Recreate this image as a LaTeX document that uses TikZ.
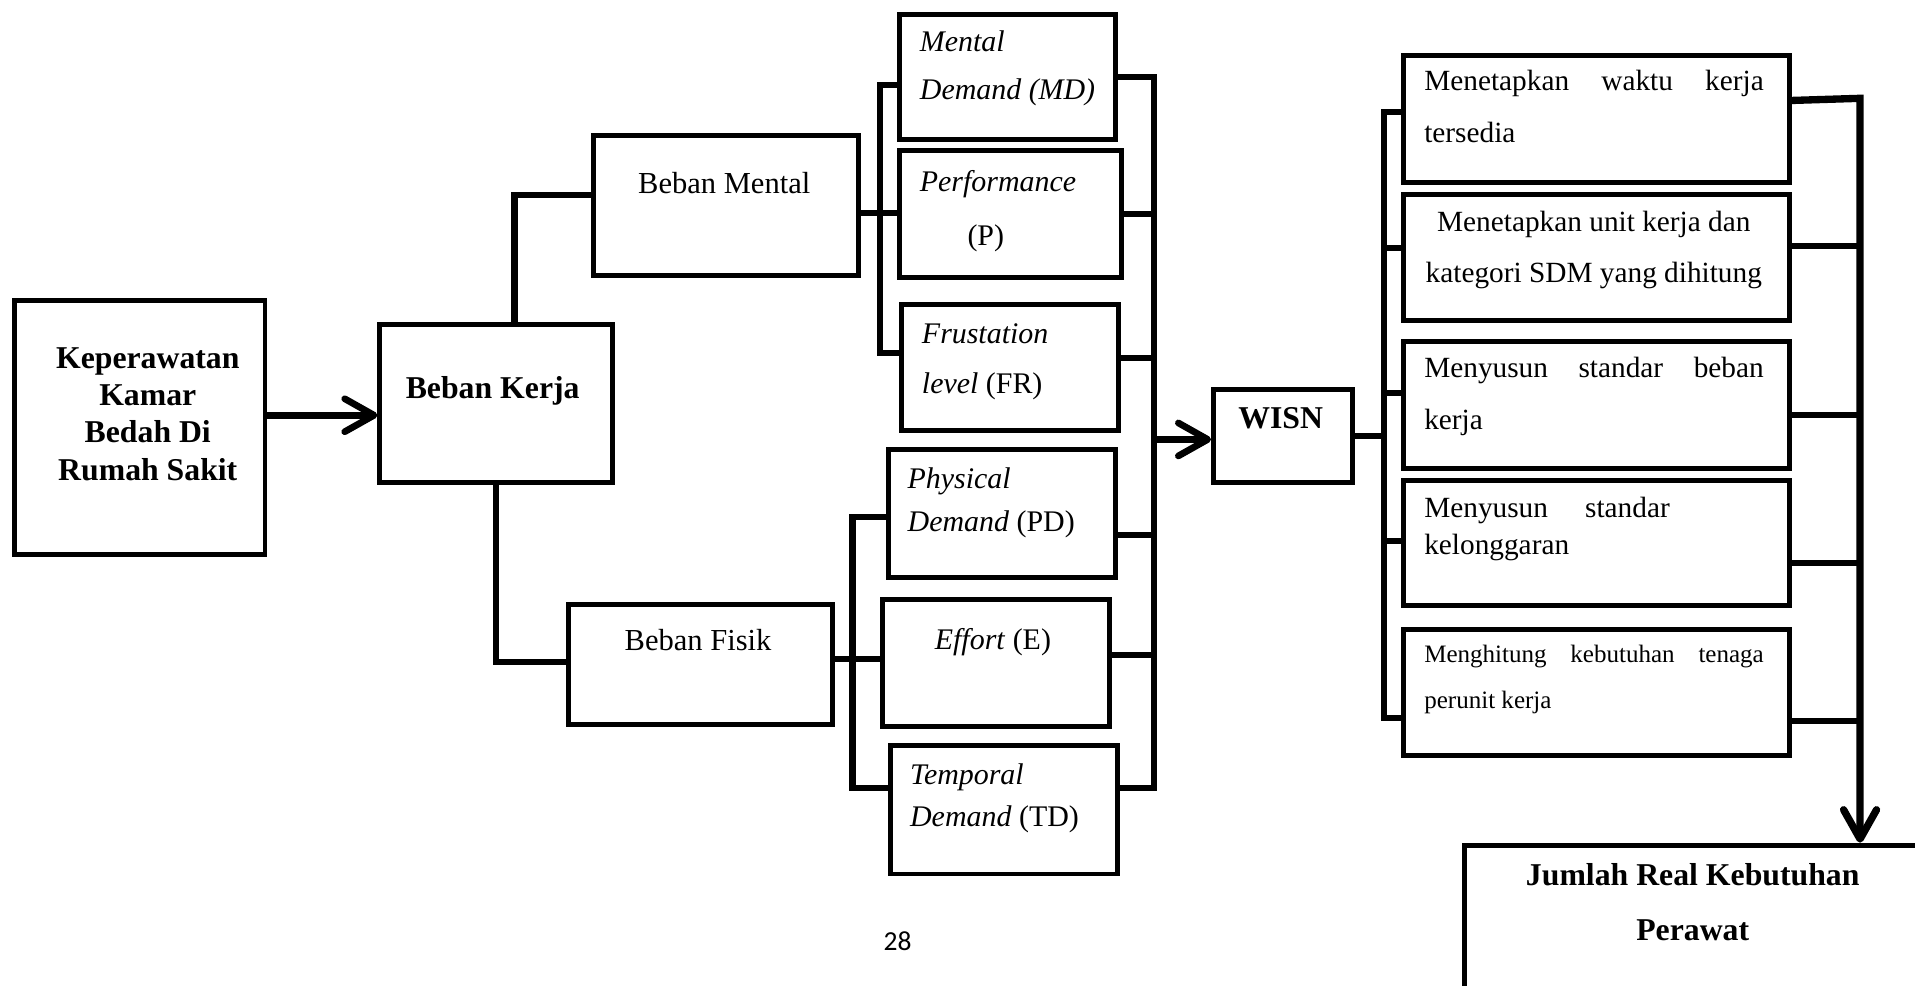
\documentclass[tikz,border=0pt]{standalone}
\usepackage{fontspec}
\setmainfont{Liberation Serif}
\newfontfamily\halfont{Carlito}
\usetikzlibrary{arrows.meta}

\begin{document}
\begin{tikzpicture}[x=1pt,y=-1pt,
  kotak/.style={draw=black,line width=4pt,rectangle,anchor=north west,inner sep=0pt},
  teks/.style={inner sep=0pt,font=\fontsize{25}{30}\selectfont},
  garis/.style={draw=black,line width=5pt},
  panah/.style={draw=black,line width=5.5pt,-{Straight Barb[length=24pt,width=27pt,round]}}]
\useasboundingbox (0,0) rectangle (1568,807);
% boxes:
\node[kotak,minimum width=205pt,minimum height=208pt] (kep) at (10,244) {};
\node[kotak,minimum width=190.6pt,minimum height=129.6pt] (bk) at (309,263.4) {};
\node[kotak,minimum width=217.3pt,minimum height=114.8pt] (bm) at (483.7,109) {};
\node[kotak,minimum width=216.5pt,minimum height=98.3pt] (bf) at (463.5,492.6) {};
\node[kotak,minimum width=177pt,minimum height=102.4pt] (md) at (734.6,9.6) {};
\node[kotak,minimum width=181.4pt,minimum height=103.5pt] (pp) at (734.6,121.5) {};
\node[kotak,minimum width=178pt,minimum height=103.7pt] (fr) at (736,247) {};
\node[kotak,minimum width=186pt,minimum height=105pt] (pd) at (725.5,365.7) {};
\node[kotak,minimum width=186pt,minimum height=104.3pt] (ef) at (720.6,488.5) {};
\node[kotak,minimum width=186pt,minimum height=105pt] (td) at (727,608.6) {};
\node[kotak,minimum width=113.8pt,minimum height=76.4pt] (wisn) at (991.6,316.6) {};
\node[kotak,minimum width=316pt,minimum height=104.3pt] (s1) at (1147,43.1) {};
\node[kotak,minimum width=316pt,minimum height=103.7pt] (s2) at (1147,156.9) {};
\node[kotak,minimum width=316pt,minimum height=104pt] (s3) at (1147,277.6) {};
\node[kotak,minimum width=316pt,minimum height=102.4pt] (s4) at (1147,391.6) {};
\node[kotak,minimum width=316pt,minimum height=103.2pt] (s5) at (1147,513.1) {};
\node[kotak,minimum width=378pt,minimum height=125pt] (jr) at (1197,690) {};
% texts (multi-line ones sit on the baseline of their last line):
\node[teks,font=\bfseries\fontsize{26}{30.5}\selectfont,align=center,anchor=base] (kept) at (121,393.1) {Keperawatan\\Kamar\\Bedah Di\\Rumah Sakit};
\node[teks,font=\bfseries\fontsize{26}{30}\selectfont,anchor=base] (bkt) at (403.4,326.6) {Beban Kerja};
\node[teks,anchor=base] (bmt) at (593,158.3) {Beban Mental};
\node[teks,anchor=base] (bft) at (571.6,532.3) {Beban Fisik};
\node[teks,font=\itshape\fontsize{24.5}{39.7}\selectfont,align=left,anchor=base west] (mdt) at (753,81.7) {Mental\\Demand (MD)};
\node[teks,font=\fontsize{24.5}{43.6}\selectfont,align=left,anchor=base west] (ppt) at (753,200.6) {\textit{Performance}\\\hspace*{39pt}(P)};
\node[teks,font=\fontsize{24.5}{41}\selectfont,align=left,anchor=base west] (frt) at (754.7,322) {\textit{Frustation}\\\textit{level} (FR)};
\node[teks,font=\fontsize{24.5}{35.4}\selectfont,align=left,anchor=base west] (pdt) at (743,435) {\textit{Physical}\\\textit{Demand} (PD)};
\node[teks,font=\fontsize{24.5}{30}\selectfont,anchor=base] (eft) at (813,532) {\textit{Effort} (E)};
\node[teks,font=\fontsize{24.5}{34.1}\selectfont,align=left,anchor=base west] (tdt) at (745,676.7) {\textit{Temporal}\\\textit{Demand} (TD)};
\node[teks,font=\bfseries\fontsize{26}{30}\selectfont,anchor=base] (wisnt) at (1048.6,351) {WISN};
\node[teks,font=\fontsize{24}{42.3}\selectfont,align=left,anchor=base west] (s1t) at (1166,116.7) {\makebox[278pt][s]{Menetapkan waktu kerja}\\tersedia};
\node[teks,font=\fontsize{24}{41.5}\selectfont,align=center,anchor=base] (s2t) at (1305,231.3) {Menetapkan unit kerja dan\\kategori SDM yang dihitung};
\node[teks,font=\fontsize{24}{42.3}\selectfont,align=left,anchor=base west] (s3t) at (1166,351.4) {\makebox[278pt][s]{Menyusun standar beban}\\kerja};
\node[teks,font=\fontsize{24}{30}\selectfont,align=left,anchor=base west] (s4t) at (1166,453.7) {\makebox[201pt][s]{Menyusun standar}\\kelonggaran};
\node[teks,font=\fontsize{20.5}{37}\selectfont,align=left,anchor=base west] (s5t) at (1166,579.8) {\makebox[278pt][s]{Menghitung kebutuhan tenaga}\\perunit kerja};
\node[teks,font=\bfseries\fontsize{26}{45}\selectfont,align=center,anchor=base] (jrt) at (1386,770) {Jumlah Real Kebutuhan\\Perawat};
\node[teks,font=\halfont\fontsize{22.5}{27}\selectfont,anchor=base] (hal) at (735,778) {28};
% left part:
\draw[panah] ([yshift=10pt]kep.east) -- ([yshift=10pt]kep.east -| bk.west);
\draw[garis] ([xshift=15pt]bk.north) |- ([yshift=9pt]bm.west);
\draw[garis] (bk.south) |- ([yshift=2pt]bf.west);
% mental bracket:
\coordinate (mtop) at (720.6,69.6);
\coordinate (mbot) at (720.6,289);
\draw[garis] ([yshift=-6pt]bm.east) -- ([yshift=-6pt]bm.east -| pp.west);
\draw[garis] (mtop -| md.west) -- (mtop) -- (mbot) -- (mbot -| fr.west);
% fisik bracket:
\coordinate (ftop) at (698,423);
\coordinate (fbot) at (698,645.5);
\draw[garis] ([yshift=4pt]bf.east) -- ([yshift=4pt]bf.east -| ef.west);
\draw[garis] (ftop -| pd.west) -- (ftop) -- (fbot) -- (fbot -| td.west);
% collecting bar:
\coordinate (rbar) at (945,645);
\draw[garis] (md.east) -- (md.east -| rbar) -- (rbar) -- (rbar -| td.east);
\draw[garis] (pp.east) -- (pp.east -| rbar);
\draw[garis] ([yshift=8pt]fr.east) -- ([yshift=8pt]fr.east -| rbar);
\draw[garis] ([yshift=-18pt]pd.east) -- ([yshift=-18pt]pd.east -| rbar);
\draw[garis] ([yshift=6pt]ef.east) -- ([yshift=6pt]ef.east -| rbar);
\draw[panah] ([yshift=-3pt]wisn.west -| rbar) -- ([yshift=-3pt]wisn.west);
% WISN bracket:
\coordinate (wtop) at (1133,91.4);
\coordinate (wbot) at (1133,588.2);
\draw[garis] (wisn.east) -- (wisn.east -| wtop);
\draw[garis] (wtop -| s1.west) -- (wtop) -- (wbot) -- (wbot -| s5.west);
\draw[garis] ([yshift=8pt]s2.west -| wtop) -- ([yshift=8pt]s2.west);
\draw[garis] ([yshift=10pt]s3.west -| wtop) -- ([yshift=10pt]s3.west);
\draw[garis] ([yshift=2pt]s4.west -| wtop) -- ([yshift=2pt]s4.west);
% result bar:
\coordinate (sbar) at (1523,80.5);
\draw[garis] ([yshift=9.5pt]s2.east) -- ([yshift=9.5pt]s2.east -| sbar);
\draw[garis] ([yshift=-8pt]s3.east) -- ([yshift=-8pt]s3.east -| sbar);
\draw[garis] ([yshift=-16pt]s4.east) -- ([yshift=-16pt]s4.east -| sbar);
\draw[garis] ([yshift=-24pt]s5.east) -- ([yshift=-24pt]s5.east -| sbar);
\draw[panah,line width=6pt] ([yshift=15pt]s1.east) -- (sbar) -- (sbar |- jr.north);
\end{tikzpicture}
\end{document}
